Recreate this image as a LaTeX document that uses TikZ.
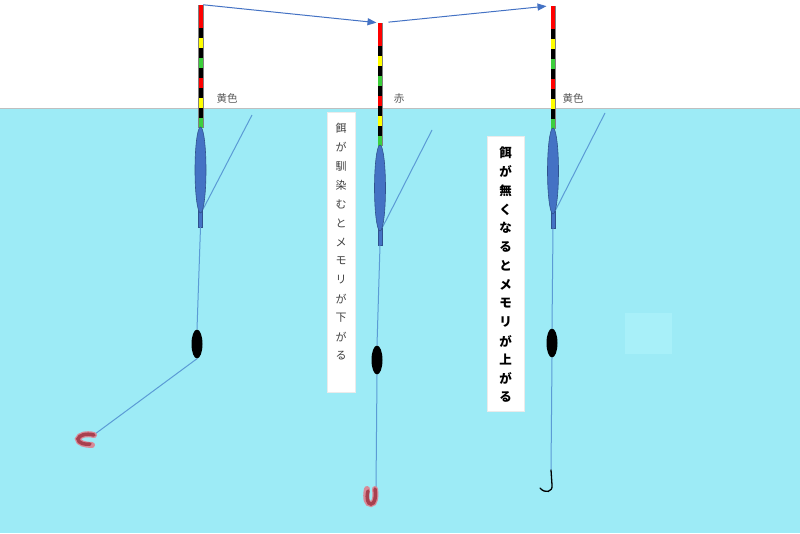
\documentclass[tikz,border=0pt]{standalone}
\usepackage{fontspec}
\newfontfamily\jp{Noto Sans CJK JP}
\usetikzlibrary{calc, arrows.meta, shapes.geometric}

\definecolor{water}{HTML}{9DEBF6}
\definecolor{waterhi}{HTML}{A8F0F9}
\definecolor{floatblue}{HTML}{4472C4}
\definecolor{floatedge}{HTML}{2F528F}
\definecolor{linec}{HTML}{5B9BD5}
\definecolor{markred}{HTML}{FF0000}
\definecolor{markyel}{HTML}{FFFF00}
\definecolor{markgrn}{HTML}{3CCF3C}
\definecolor{labelgray}{HTML}{595959}
\definecolor{baitred}{HTML}{A8404F}
\definecolor{baitpink}{HTML}{D88A98}

\tikzset{
	tipbox/.style = {rectangle, draw = gray, line width = 0.5pt, fill = black, minimum width = 4.5pt, minimum height = 122pt, inner sep = 0pt},
	bodybox/.style = {ellipse, draw = floatedge, line width = 0.6pt, fill = floatblue, minimum width = 11pt, minimum height = 86pt, inner sep = 0pt},
	stembox/.style = {rectangle, draw = floatedge, line width = 0.5pt, fill = floatblue, minimum width = 4pt, minimum height = 17pt, inner sep = 0pt},
	sinker/.style = {ellipse, fill = black, minimum width = 11pt, minimum height = 29pt, inner sep = 0pt},
	fishline/.style = {draw = linec, line width = 1pt},
	arr/.style = {draw = floatblue, line width = 1pt, -{Triangle[length = 9pt, width = 7pt]}},
	lbl/.style = {text = labelgray, font = \jp\fontsize{10.5}{12}\selectfont, inner sep = 0pt},
	memo/.style = {fill = white, draw = black!8, line width = 0.5pt, inner sep = 0pt},
	memotext/.style = {text = black!75, font = \jp\fontsize{11}{12}\selectfont, inner sep = 0pt},
	memobold/.style = {text = black, font = \jp\bfseries\fontsize{12.5}{13}\selectfont, inner sep = 0pt}
}

\begin{document}
\begin{tikzpicture}[x = 1pt, y = -1pt]
	\useasboundingbox (0,0) rectangle (800,533);
	\fill[white] (0,0) rectangle (800,533);

	% water
	\fill[water] (0,108) rectangle (800,533);
	\draw[gray!50, line width = 0.5pt] (0,108) -- (800,108);
	\fill[waterhi] (625,313) rectangle (672,354);

	% floats
	\foreach \n/\x/\t/\sx/\sy in {1/200.5/5/252/115, 2/380/23/432/130, 3/553/6/605/113}
	{
		\coordinate (side\n) at (\sx,\sy);
		\node[stembox] (stem\n) at (\x,\t+213.5) {};
		\draw[fishline] (side\n) -- (stem\n.north east);
		\node[tipbox] (tip\n) at (\x,\t+61) {};
		\fill[markred] (\x-2,\t) rectangle (\x+2,\t+23);
		\foreach \c [count = \k] in {black, markyel, black, markgrn, black, markred, black, markyel, black, markgrn}
			\fill[\c] (\x-2,{\t+23+10*(\k-1)}) rectangle (\x+2,{\t+23+10*\k});
		\node[bodybox] (body\n) at (\x,\t+165) {};
	}

	% arrows between the tops
	\draw[arr, shorten >= 1pt] (tip1.north east) -- (tip2.north west);
	\draw[arr, shorten <= 6pt, shorten >= 4pt] (tip2.north east) -- (tip3.north west);

	% sinkers and lines
	\node[sinker] (sink1) at (197,344) {};
	\node[sinker] (sink2) at (377,360) {};
	\node[sinker] (sink3) at (552,343) {};
	\coordinate (bait1) at (95,434);
	\coordinate (bait2) at (376,488);
	\coordinate (hook) at (551,470);

	\draw[fishline]
		(stem1.south) -- (sink1.north)
		(sink1.south) -- (bait1)
		(stem2.south) -- (sink2.north)
		(sink2.south) -- (bait2)
		(stem3.south) -- (sink3.north)
		(sink3.south) -- (hook);

	% bait
	\draw[baitpink, line width = 6pt, line cap = round]
		(94,435) .. controls (86,433) and (79,435) .. (78,439)
		.. controls (78,443) and (85,445) .. (92,445);
	\draw[baitred, line width = 3.5pt, line cap = round]
		(94,435) .. controls (86,433) and (79,435) .. (78,439)
		.. controls (78,443) and (85,445) .. (90,444);
	\draw[baitpink, line width = 6pt, line cap = round]
		(367,489) .. controls (365,499) and (367,504) .. (371,504)
		.. controls (375,504) and (376,497) .. (375,489);
	\draw[baitred, line width = 3.5pt, line cap = round]
		(368,491) .. controls (366,499) and (368,504) .. (371,504)
		.. controls (375,504) and (376,497) .. (375,489);

	% hook
	\draw[black, line width = 1.3pt, line cap = round]
		(hook) -- (552,485) .. controls (553,492) and (545,494) .. (540,488);

	% colour labels
	\node[lbl] (col1) at (227,99) {黄色};
	\node[lbl] (col2) at (399,99) {赤};
	\node[lbl] (col3) at (573,99) {黄色};

	% notes
	\node[memo, minimum width = 28pt, minimum height = 280pt] (memo1) at (341,252) {};
	\foreach \ch [count = \k] in {餌,が,馴,染,む,と,メ,モ,リ,が,下,が,る}
		\node[memotext] (ma\k) at (341,{128+19*(\k-1)}) {\ch};

	\node[memo, minimum width = 37pt, minimum height = 275pt] (memo2) at (505.5,273.5) {};
	\foreach \ch [count = \k] in {餌,が,無,く,な,る,と,メ,モ,リ,が,上,が,る}
		\node[memobold] (mb\k) at (505.5,{153+18.8*(\k-1)}) {\ch};
\end{tikzpicture}
\end{document}
